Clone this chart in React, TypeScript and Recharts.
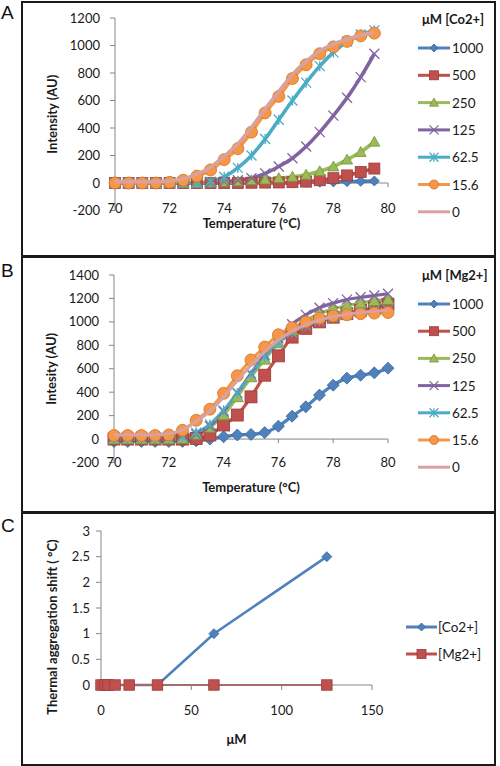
import React from 'react'
import { LineChart, Line, XAxis, YAxis, ReferenceLine } from 'recharts'

const FONT = 'Lato, "Open Sans", sans-serif'
const AXIS = '#868686'
const INK = '#1a1a1a'

// concentrations (µM) used as series names in A and B
const levels = ['1000', '500', '250', '125', '62.5', '15.6', '0']

// A: Co2+ melt curves, 70 → 79.5 °C
const tempsA = [70, 70.5, 71, 71.5, 72, 72.5, 73, 73.5, 74, 74.5, 75, 75.5, 76, 76.5, 77, 77.5, 78, 78.5, 79, 79.5]
const co1000 = [0, 0, 0, 0, 0, 0, 0, 0, 0, 0, 0, 0, 0, 2, 4, 6, 8, 10, 12, 15]
const co500 = [0, 0, 0, 0, 0, 0, 0, 0, 0, 0, 2, 3, 4, 6, 10, 20, 35, 55, 80, 105]
const co250 = [0, 0, 0, 0, 0, 0, 0, 3, 8, 12, 20, 25, 35, 45, 60, 85, 120, 170, 225, 300]
const co125 = [0, 0, 0, 0, 0, 0, 0, 2, 10, 20, 35, 70, 120, 180, 265, 370, 490, 620, 770, 940]
const co62 = [0, 0, 0, 0, 0, 0, 0, 10, 45, 110, 200, 320, 460, 600, 730, 850, 950, 1030, 1080, 1110]
const co15 = [0, 0, 0, 0, 5, 20, 50, 95, 170, 250, 370, 510, 630, 760, 860, 940, 990, 1030, 1070, 1090]
const co0 = [10, 10, 10, 10, 15, 30, 65, 115, 195, 285, 405, 540, 665, 790, 885, 960, 1010, 1045, 1075, 1095]

// B: Mg2+ melt curves, 70 → 80 °C
const tempsB = [70, 70.5, 71, 71.5, 72, 72.5, 73, 73.5, 74, 74.5, 75, 75.5, 76, 76.5, 77, 77.5, 78, 78.5, 79, 79.5, 80]
const mg1000 = [-20, -20, -20, -20, -20, -20, -15, 0, 20, 35, 40, 55, 110, 195, 275, 375, 460, 520, 545, 565, 605]
const mg500 = [0, 0, 0, 0, 0, 0, 5, 35, 120, 205, 360, 545, 710, 870, 945, 1000, 1040, 1070, 1100, 1120, 1150]
const mg250 = [0, 0, 0, 0, 0, 5, 40, 100, 205, 360, 530, 680, 820, 930, 1010, 1070, 1110, 1140, 1160, 1180, 1190]
const mg125 = [20, 20, 20, 20, 20, 25, 40, 110, 235, 395, 560, 720, 860, 980, 1060, 1120, 1160, 1190, 1210, 1225, 1240]
const mg62 = [10, 10, 10, 10, 10, 20, 55, 125, 245, 390, 550, 700, 820, 910, 970, 1010, 1040, 1060, 1080, 1090, 1100]
const mg15 = [30, 30, 30, 30, 35, 75, 160, 255, 390, 540, 675, 785, 890, 950, 1000, 1030, 1050, 1060, 1070, 1075, 1080]
const mg0 = [35, 35, 35, 35, 45, 80, 150, 240, 360, 500, 630, 745, 845, 920, 975, 1015, 1045, 1065, 1080, 1090, 1100]

// C: thermal aggregation shift vs concentration
const concentrations = [0, 1.95, 3.9, 7.8, 15.6, 31.25, 62.5, 125]
const coShift = [0, 0, 0, 0, 0, 0, 1, 2.5]
const mgShift = [0, 0, 0, 0, 0, 0, 0, 0]

const tempTicks = [70, 72, 74, 76, 78, 80]
const ticksA = [-200, 0, 200, 400, 600, 800, 1000, 1200]
const ticksB = [-200, 0, 200, 400, 600, 800, 1000, 1200, 1400]
const shiftTicks = [0, 0.5, 1, 1.5, 2, 2.5, 3]
const concTicks = [0, 50, 100, 150]

const COLORS = ['#4F81BD', '#C0504D', '#9BBB59', '#8064A2', '#4BACC6', '#F79646', '#D9A19F']
const EDGES = ['#3A6597', '#9B3B38', '#77933C', '#5F497A', '#31859C', '#C8742E', '#B88583']
const SHAPES = ['diamond', 'square', 'triangle', 'cross', 'star', 'circle', 'none']

const titleStyle = { fontFamily: FONT, fontSize: 13, fontWeight: 700, fill: INK }

function Marker({ shape, cx, cy, size, fill, edge }: any) {
  const r = size / 2
  if (shape === 'diamond')
    return <polygon points={`${cx},${cy - r} ${cx + r},${cy} ${cx},${cy + r} ${cx - r},${cy}`} fill={fill} stroke={edge} strokeWidth={0.8} />
  if (shape === 'square')
    return <rect x={cx - r} y={cy - r} width={size} height={size} fill={fill} stroke={edge} strokeWidth={0.8} />
  if (shape === 'triangle')
    return <polygon points={`${cx},${cy - r} ${cx + r},${cy + r * 0.8} ${cx - r},${cy + r * 0.8}`} fill={fill} stroke={edge} strokeWidth={0.8} />
  if (shape === 'circle') return <circle cx={cx} cy={cy} r={r} fill={fill} stroke={edge} strokeWidth={0.8} />
  if (shape === 'cross' || shape === 'star') {
    let d = `M${cx - r},${cy - r}L${cx + r},${cy + r}M${cx + r},${cy - r}L${cx - r},${cy + r}`
    if (shape === 'star') d += `M${cx},${cy - r}L${cx},${cy + r}`
    return <path d={d} stroke={fill} strokeWidth={1.3} fill="none" />
  }
  return <g />
}

const dotFor = (k: number, size: number) =>
  SHAPES[k] === 'none'
    ? false
    : (p: any) =>
        p.cx == null || p.cy == null ? (
          <g key={`m${k}-${p.index}`} />
        ) : (
          <Marker key={`m${k}-${p.index}`} shape={SHAPES[k]} cx={p.cx} cy={p.cy} size={size} fill={COLORS[k]} edge={EDGES[k]} />
        )

const XTick = ({ x, y, payload, shift }: any) => (
  <text x={x} y={y + shift} dy="0.35em" textAnchor="middle" fill={INK} fontSize={13} fontFamily={FONT}>
    {payload.value}
  </text>
)

function MeltChart({ temps, series, yMax, yTicks, m, yLabel, xTitleOffset, tickDrop, tickShift, markerSize, lineWidth }: any) {
  const rows = temps.map((t: number, i: number) => {
    const row: any = { t }
    series.forEach((s: number[], k: number) => (row['s' + k] = s[i]))
    return row
  })
  return (
    <LineChart width={500} height={256} data={rows} margin={m}>
      <XAxis
        type="number"
        dataKey="t"
        domain={[70, 80]}
        ticks={tempTicks}
        interval={0}
        axisLine={false}
        tickLine={false}
        tickSize={0}
        tickMargin={0}
        height={20}
        tick={(p: any) => <XTick {...p} shift={tickShift} />}
        label={{ value: 'Temperature (°C)', position: 'insideTop', offset: xTitleOffset, ...titleStyle, style: titleStyle }}
      />
      <YAxis
        type="number"
        domain={[-200, yMax]}
        ticks={yTicks}
        interval={0}
        width={70}
        stroke={AXIS}
        tickSize={5}
        tickMargin={10}
        tick={{ fill: INK, fontSize: 13, fontFamily: FONT }}
        label={{ value: yLabel, angle: -90, position: 'insideLeft', offset: 7, ...titleStyle, style: { ...titleStyle, textAnchor: 'middle' } }}
      />
      <ReferenceLine y={0} stroke={AXIS} />
      {tempTicks.map((t) => (
        <ReferenceLine key={t} segment={[{ x: t, y: 0 }, { x: t, y: -tickDrop }]} stroke={AXIS} />
      ))}
      {series.map((_: number[], k: number) => (
        <Line
          key={k}
          dataKey={'s' + k}
          type="monotone"
          stroke={COLORS[k]}
          strokeWidth={lineWidth}
          dot={dotFor(k, markerSize[k])}
          activeDot={false}
          isAnimationActive={false}
          {...(SHAPES[k] === 'none' ? { zIndex: 700 } : {})}
        />
      ))}
    </LineChart>
  )
}

function SeriesLegend({ top, title, names, colors, edges, shapes, firstY, gap, x0, x1, textX }: any) {
  return (
    <svg width={100} height={240} style={{ position: 'absolute', left: 400, top }}>
      {title && (
        <text x={22} y={19} dominantBaseline="central" {...titleStyle}>
          {title}
        </text>
      )}
      {names.map((n: string, i: number) => {
        const y = firstY + i * gap
        const cx = (x0 + x1) / 2
        return (
          <g key={n}>
            <line x1={x0} x2={x1} y1={y} y2={y} stroke={colors[i]} strokeWidth={3} />
            <Marker shape={shapes[i]} cx={cx} cy={y} size={shapes[i] === 'diamond' ? 8 : 9} fill={colors[i]} edge={edges[i]} />
            <text x={textX} y={y} dominantBaseline="central" fill={INK} fontSize={13.5} fontFamily={FONT}>
              {n}
            </text>
          </g>
        )
      })}
    </svg>
  )
}

const frame = (top: number, height: number): React.CSSProperties => ({
  position: 'absolute',
  left: 21,
  top,
  width: 475,
  height,
  boxSizing: 'border-box',
  border: '2px solid #1a1a1a',
})

const letter = (top: number): React.CSSProperties => ({
  position: 'absolute',
  left: 1,
  top,
  fontFamily: '"Liberation Sans", Arial, sans-serif',
  fontSize: 19,
  lineHeight: '19px',
  color: '#111',
})

export default function App() {
  const coData = concentrations.map((x, i) => ({ x, y: coShift[i] }))
  const mgData = concentrations.map((x, i) => ({ x, y: mgShift[i] }))
  const sizesA = [10, 11, 11, 10, 10, 12, 0]
  const sizesB = [12, 12, 12, 10, 10, 12, 0]

  return (
    <div style={{ position: 'absolute', left: 0, top: 0, width: 500, height: 766, background: '#fff', overflow: 'hidden' }}>
      <div style={frame(1, 256)} />
      <div style={frame(256, 257)} />
      <div style={frame(512, 254)} />
      <div style={letter(2.5)}>A</div>
      <div style={letter(260.5)}>B</div>
      <div style={letter(515.5)}>C</div>

      <div style={{ position: 'absolute', left: 0, top: 0 }}>
        <MeltChart
          temps={tempsA}
          series={[co1000, co500, co250, co125, co62, co15, co0]}
          yMax={1200}
          yTicks={ticksA}
          m={{ top: 18, right: 112, bottom: 25.5, left: 45 }}
          yLabel="Intensity (AU)"
          xTitleOffset={8}
          tickDrop={30}
          tickShift={-2}
          markerSize={sizesA}
          lineWidth={3.6}
        />
      </div>
      <SeriesLegend top={0} title="μM [Co2+]" names={levels} colors={COLORS} edges={EDGES} shapes={SHAPES} firstY={48} gap={27.3} x0={18} x1={50} textX={52} />

      <div style={{ position: 'absolute', left: 0, top: 256 }}>
        <MeltChart
          temps={tempsB}
          series={[mg1000, mg500, mg250, mg125, mg62, mg15, mg0]}
          yMax={1400}
          yTicks={ticksB}
          m={{ top: 19, right: 112, bottom: 29.5, left: 44 }}
          yLabel="Intesity (AU)"
          xTitleOffset={20}
          tickDrop={34}
          tickShift={0}
          markerSize={sizesB}
          lineWidth={3.2}
        />
      </div>
      <SeriesLegend top={256} title="μM [Mg2+]" names={levels} colors={COLORS} edges={EDGES} shapes={SHAPES} firstY={48} gap={27.2} x0={18} x1={50} textX={52} />

      <div style={{ position: 'absolute', left: 0, top: 512 }}>
        <LineChart width={500} height={254} margin={{ top: 19, right: 128, bottom: 51, left: 31 }}>
          <XAxis
            type="number"
            dataKey="x"
            domain={[0, 150]}
            ticks={concTicks}
            interval={0}
            stroke={AXIS}
            tickSize={5}
            tickMargin={0}
            height={30}
            tick={(p: any) => <XTick {...p} shift={20} />}
            label={{ value: 'μM', position: 'insideTop', offset: 50, ...titleStyle, style: titleStyle }}
          />
          <YAxis
            type="number"
            domain={[0, 3]}
            ticks={shiftTicks}
            interval={0}
            width={70}
            stroke={AXIS}
            tickSize={5}
            tickMargin={6}
            tick={{ fill: INK, fontSize: 13, fontFamily: FONT }}
            label={{
              value: 'Thermal aggregation shift ( °C)',
              angle: -90,
              position: 'insideLeft',
              offset: 21,
              dy: 19,
              ...titleStyle,
              style: { ...titleStyle, textAnchor: 'middle' },
            }}
          />
          <Line
            data={coData}
            dataKey="y"
            stroke={COLORS[0]}
            strokeWidth={2.6}
            dot={(p: any) => <Marker key={`c${p.index}`} shape="diamond" cx={p.cx} cy={p.cy} size={10} fill={COLORS[0]} edge={EDGES[0]} />}
            activeDot={false}
            isAnimationActive={false}
          />
          <Line
            data={mgData}
            dataKey="y"
            stroke={COLORS[1]}
            strokeWidth={2.2}
            dot={(p: any) => <Marker key={`g${p.index}`} shape="square" cx={p.cx} cy={p.cy} size={10.5} fill={COLORS[1]} edge={EDGES[1]} />}
            activeDot={false}
            isAnimationActive={false}
          />
        </LineChart>
      </div>
      <SeriesLegend top={512} names={['[Co2+]', '[Mg2+]']} colors={COLORS} edges={EDGES} shapes={SHAPES} firstY={115} gap={27} x0={6} x1={37} textX={38} />
    </div>
  )
}
